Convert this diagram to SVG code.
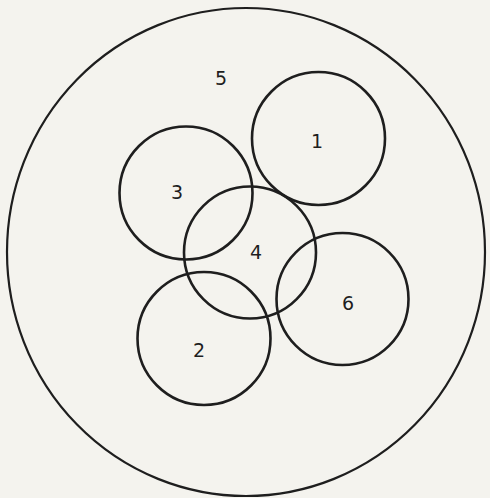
<svg xmlns="http://www.w3.org/2000/svg" width="490" height="498" viewBox="0 0 490 498">
<style>
.c{fill:none;stroke:#1e1e1e;stroke-width:2.6}
.o{fill:none;stroke:#1e1e1e;stroke-width:2.2}
.t{font-family:"DejaVu Sans","Liberation Sans",sans-serif;font-size:19px;fill:#1e1e1e;text-anchor:middle;dominant-baseline:central}
</style>
<rect width="490" height="498" fill="#f4f3ee"/>
<g id="n5">
<ellipse class="o" cx="246" cy="252" rx="239" ry="244"/>
<text class="t" x="221" y="78">5</text>
</g>
<g id="n1">
<circle class="c" cx="318.5" cy="138.5" r="66.5"/>
<text class="t" x="317" y="141">1</text>
</g>
<g id="n3">
<circle class="c" cx="186" cy="193" r="66.5"/>
<text class="t" x="177" y="192">3</text>
</g>
<g id="n4">
<circle class="c" cx="250" cy="252.5" r="66"/>
<text class="t" x="256" y="252">4</text>
</g>
<g id="n6">
<circle class="c" cx="342.5" cy="299" r="66"/>
<text class="t" x="348" y="303">6</text>
</g>
<g id="n2">
<circle class="c" cx="204" cy="338.5" r="66.5"/>
<text class="t" x="199" y="350">2</text>
</g>
<g id="connectors"></g>
</svg>
